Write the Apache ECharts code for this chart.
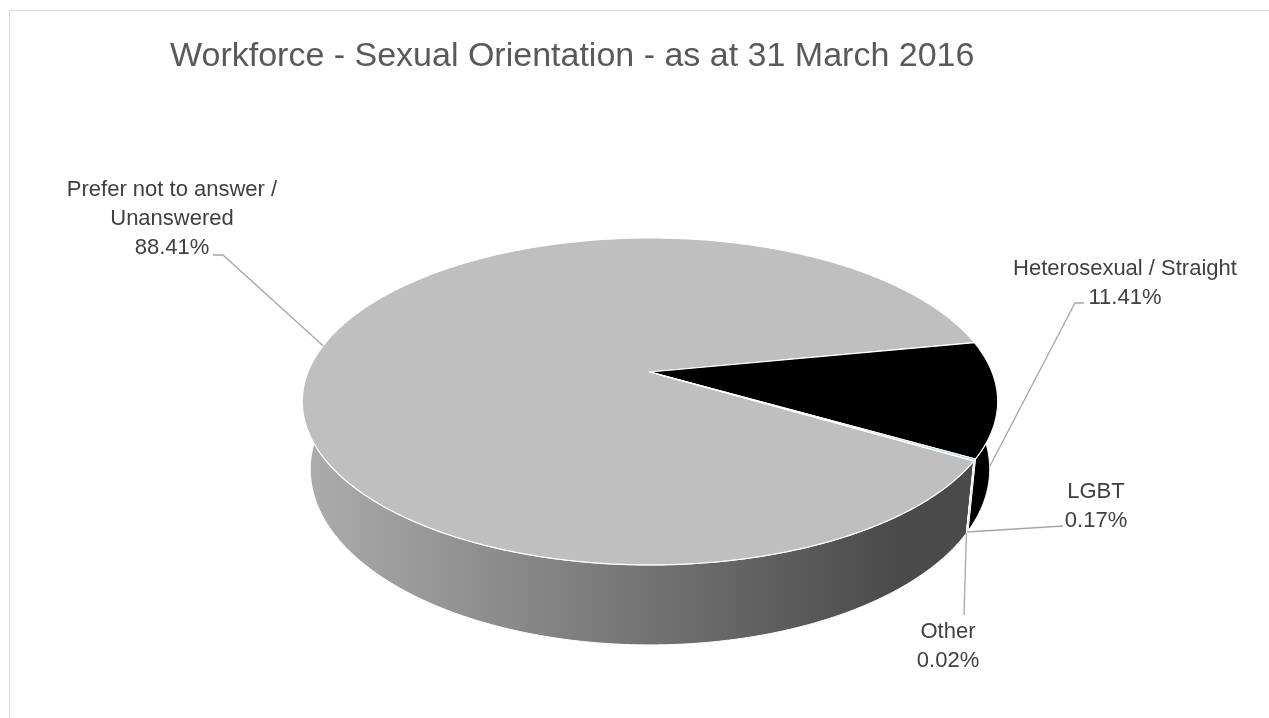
<!DOCTYPE html>
<html>
<head>
<meta charset="utf-8">
<title>Workforce - Sexual Orientation</title>
<script src="https://cdn.jsdelivr.net/npm/echarts@6/dist/echarts.min.js"></script>
<style>
  html, body { margin: 0; padding: 0; background: #fff; }
  #pie3d { width: 1269px; height: 718px; }
</style>
</head>
<body>
<div id="pie3d"></div>
<script>
// data
var categories = ['Prefer not to answer / Unanswered', 'Heterosexual / Straight', 'LGBT', 'Other'];
var labelNames = ['Prefer not to answer /\nUnanswered', 'Heterosexual / Straight', 'LGBT', 'Other'];
var shares = [88.41, 11.41, 0.17, 0.02];

// look
var topColors = ['#BFBFBF', '#000000', '#9DC3E6', '#A5A5A5'];
var sideColors = [null, '#000000', '#5B7A94', '#666666'];
var labelCenters = [[172, 219], [1125, 283], [1096, 506], [948, 646]];
var leaderPaths = [[[213, 255], [223, 255]], [[1084, 303], [1075, 303]], [[1063, 526]], [[964, 615]]];

// 3d projection of the disc (perspective, like Excel)
var CX = 650, CY = 372;      // apex of slices
var RX = 342, RY = 158.2;    // radii in screen px
var K = 0.18;                // perspective strength
var DEPTH = 65.6;            // thickness
var SHRINK = 0.977;          // bottom rim slightly narrower
var START_DEG = 30.7;        // first slice start, clockwise from 3 o'clock

var total = shares.reduce(function (a, b) { return a + b; }, 0);
var startAngles = [], endAngles = [];
(function () {
  var acc = START_DEG;
  shares.forEach(function (v) {
    var a0 = acc, a1 = acc + v / total * 360;
    acc = a1;
    if (a0 >= 270) { a0 -= 360; a1 -= 360; }
    startAngles.push(a0);
    endAngles.push(a1);
  });
})();

function proj(deg, bottom) {
  var t = deg * Math.PI / 180;
  var u = Math.cos(t), v = Math.sin(t), w = 1 - K * v;
  var x = CX + RX * u / w, y = CY + RY * v / w;
  if (bottom) {
    x = CX + (x - CX) * SHRINK;
    y += DEPTH / w;
  }
  return [x, y];
}

function arc(a0, a1, bottom) {
  var pts = [];
  var n = Math.max(1, Math.ceil(Math.abs(a1 - a0) / 0.5));
  for (var j = 0; j <= n; j++) {
    pts.push(proj(a0 + (a1 - a0) * j / n, bottom));
  }
  return pts;
}

var greySide = new echarts.graphic.LinearGradient(300, 0, 995, 0, [
  { offset: 0, color: '#ADADAD' },
  { offset: 0.5, color: '#737373' },
  { offset: 0.86, color: '#4A4A4A' },
  { offset: 1, color: '#4A4A4A' }
], true);

function renderSlice(params, api) {
  var i = params.dataIndex;
  var a0 = startAngles[i], a1 = endAngles[i];
  var children = [];

  // outer side, only the front part can be seen
  var s0 = Math.max(a0, -10), s1 = Math.min(a1, 190);
  if (s1 > s0) {
    var side = arc(s0, s1, false).concat(arc(s0, s1, true).reverse());
    children.push({
      type: 'polygon',
      z2: 1,
      shape: { points: side },
      style: { fill: sideColors[i] || greySide, stroke: '#fff', lineWidth: 1 }
    });
  }

  // top face
  children.push({
    type: 'polygon',
    z2: 10,
    shape: { points: [[CX, CY]].concat(arc(a0, a1, false)) },
    style: { fill: topColors[i], stroke: '#fff', lineWidth: 1.2, lineJoin: 'round' }
  });

  // leader line to the rim (bottom rim when facing us)
  var mid = (a0 + a1) / 2;
  var anchor = Math.sin(mid * Math.PI / 180) > 0.05 ? proj(mid, true) : proj(mid, false);
  children.push({
    type: 'polyline',
    z2: 20,
    shape: { points: leaderPaths[i].concat([anchor]) },
    style: { stroke: '#A6A6A6', lineWidth: 1.3, fill: null }
  });

  children.push({
    type: 'text',
    z2: 20,
    x: labelCenters[i][0],
    y: labelCenters[i][1],
    style: {
      text: labelNames[i] + '\n' + api.value(0).toFixed(2) + '%',
      align: 'center',
      verticalAlign: 'middle',
      font: '22px "Liberation Sans"',
      lineHeight: 29,
      fill: '#404040'
    }
  });

  return { type: 'group', children: children };
}

var chart = echarts.init(document.getElementById('pie3d'));
var option = {
  animation: false,
  title: {
    text: 'Workforce - Sexual Orientation - as at 31 March 2016',
    left: 170,
    top: 40,
    padding: 0,
    textStyle: {
      fontFamily: 'Liberation Sans',
      fontSize: 34,
      fontWeight: 'normal',
      color: '#595959'
    }
  },
  graphic: [{
    type: 'rect',
    silent: true,
    shape: { x: 9.5, y: 10.5, width: 1300, height: 800 },
    style: { fill: null, stroke: '#D9D9D9', lineWidth: 1 }
  }],
  series: [{
    type: 'custom',
    coordinateSystem: 'none',
    silent: true,
    renderItem: renderSlice,
    data: shares.map(function (v, i) { return { name: categories[i], value: [v] }; })
  }]
};
chart.setOption(option);
</script>
</body>
</html>
